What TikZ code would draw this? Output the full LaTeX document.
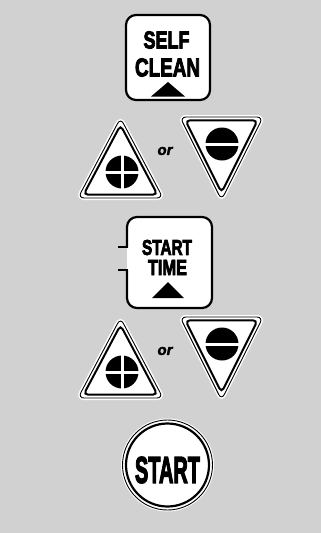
\documentclass[tikz,border=0pt]{standalone}
\usepackage{fontspec}
\setmainfont{Liberation Sans}
\newfontfamily\heavy{Liberation Sans}[BoldFeatures={FakeBold=4}]
\newfontfamily\orfont{Liberation Sans}[BoldItalicFeatures={FakeBold=2}]
\usepackage{graphicx}
\usetikzlibrary{calc}
\begin{document}
\begin{tikzpicture}[x=1pt,y=-1pt,
  halo/.style={draw=white, line width=4pt, fill=white, rounded corners=6pt},
  outerline/.style={draw=black, line width=0.9pt, fill=white, rounded corners=6pt},
  innerline/.style={draw=black, line width=2pt, rounded corners=4.5pt},
  keybox/.style={draw=black, line width=2.2pt, rounded corners=10pt},
  lbl/.style={inner sep=0pt, outer sep=0pt, anchor=center},
  ortext/.style={lbl, font=\orfont\bfseries\itshape\fontsize{15}{15}\selectfont}
]
\fill[black!18] (0,0) rectangle (321,533);
\useasboundingbox (0,0) rectangle (321,533);

% ---- SELF CLEAN key
\fill[white, rounded corners=10pt] (126,15) rectangle (210,100);
\draw[keybox] (126,15) rectangle (210,100);
\node[lbl] (self) at (166.5,40) {\resizebox{46pt}{17pt}{\heavy\bfseries SELF}};
\node[lbl] (clean) at (167.5,67.5) {\resizebox{65pt}{18pt}{\heavy\bfseries CLEAN}};
\fill (168,82) -- (185,96.5) -- (151,96.5) -- cycle;

% ---- up / down triangle pairs
\foreach \dy/\n in {0/1,200/2}{
  % up triangle
  \coordinate (ua\n) at (120.5,118+\dy);
  \coordinate (ub\n) at (78,198+\dy);
  \coordinate (uc\n) at (163,198+\dy);
  \coordinate (ui\n) at (120.5,172.6+\dy);
  \path[halo] (ua\n) -- (uc\n) -- (ub\n) -- cycle;
  \path[outerline] (ua\n) -- (uc\n) -- (ub\n) -- cycle;
  \draw[innerline] ($(ui\n)!0.87!(ua\n)$) -- ($(ui\n)!0.87!(uc\n)$) -- ($(ui\n)!0.87!(ub\n)$) -- cycle;
  \fill (122,172+\dy) circle[radius=16.5pt];
  \fill[white] (120.5,154+\dy) rectangle (123.5,190+\dy);
  \fill[white] (104,170.5+\dy) rectangle (140,173.5+\dy);
  % or
  \node[ortext] (or\n) at (165,151+\dy) {or};
  % down triangle
  \coordinate (da\n) at (180,117+\dy);
  \coordinate (db\n) at (263,117+\dy);
  \coordinate (dc\n) at (221.5,200+\dy);
  \coordinate (di\n) at (221.5,142.6+\dy);
  \path[halo] (da\n) -- (db\n) -- (dc\n) -- cycle;
  \path[outerline] (da\n) -- (db\n) -- (dc\n) -- cycle;
  \draw[innerline] ($(di\n)!0.87!(da\n)$) -- ($(di\n)!0.87!(db\n)$) -- ($(di\n)!0.87!(dc\n)$) -- cycle;
  \fill (222,144+\dy) circle[radius=16.5pt];
  \fill[white] (204,142.5+\dy) rectangle (240,145.5+\dy);
}

% ---- START TIME key
\fill[white, rounded corners=10pt] (127,217) rectangle (212,308);
\draw[keybox] (127,247) -- (127,217) -- (212,217) -- (212,308) -- (127,308) -- (127,270);
\draw[line width=2.2pt] (118,247) -- (128.1,247);
\draw[line width=2.2pt] (118,270) -- (128.1,270);
\node[lbl] (start1) at (167,247.5) {\resizebox{50pt}{15pt}{\heavy\bfseries START}};
\node[lbl] (time) at (167.5,267.5) {\resizebox{39pt}{15pt}{\heavy\bfseries TIME}};
\fill (168,282) -- (184,298) -- (152,298) -- cycle;

% ---- START key
\fill[white] (167.5,465) circle[radius=46.5pt];
\draw[line width=0.9pt] (167.5,465) circle[radius=45pt];
\draw[line width=2.2pt] (167.5,465) circle[radius=41.5pt];
\node[lbl] (start2) at (167.5,470) {\resizebox{65pt}{26pt}{\heavy\bfseries START}};
\end{tikzpicture}
\end{document}
